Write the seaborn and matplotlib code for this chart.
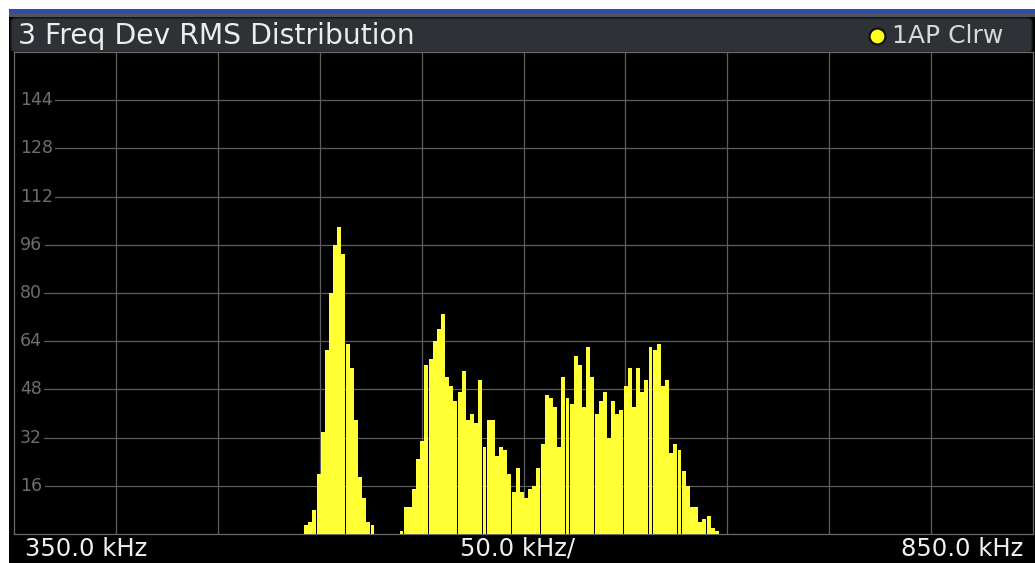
import numpy as np
import pandas as pd
import matplotlib
matplotlib.use("Agg")
import matplotlib.pyplot as plt
from matplotlib.patches import Rectangle, FancyBboxPatch
from matplotlib.lines import Line2D
import matplotlib.transforms as mtransforms
import seaborn as sns

# ---- data -------------------------------------------------------------
title_text = "3 Freq Dev RMS Distribution"
trace_label = "1AP Clrw"
start_label = "350.0 kHz"
span_label = "50.0 kHz/"
stop_label = "850.0 kHz"

x_min_khz = 350.0
x_max_khz = 850.0
x_grid_khz = [400, 450, 500, 550, 600, 650, 700, 750, 800]
y_max = 160
y_ticks = [16, 32, 48, 64, 80, 96, 112, 128, 144]

# histogram bins (kHz)
bin_start_khz = 492.3
bin_width_khz = 2.036

# hit counts per bin
counts_low_peak = [3, 4, 8, 20, 34, 61, 80, 96, 102, 93, 63, 55, 38, 19, 12, 4, 3]
counts_gap = [0, 0, 0, 0, 0, 0]
counts_high_band = [1, 9, 9, 15, 25, 31, 56, 58, 64, 68, 73, 52, 49, 44, 47,
                    54, 38, 40, 37, 51, 29, 38, 38, 26, 29, 28, 20, 14, 22, 14,
                    12, 15, 16, 22, 30, 46, 45, 42, 29, 52, 45, 43, 59, 56, 42,
                    62, 52, 40, 44, 47, 32, 44, 40, 41, 49, 55, 42, 55, 47, 51,
                    62, 61, 63, 49, 51, 27, 30, 28, 21, 16, 9, 9, 4, 5, 6, 2, 1]

counts = counts_low_peak + counts_gap + counts_high_band
n_bins = len(counts)
centers = bin_start_khz + bin_width_khz * (np.arange(n_bins) + 0.5)
df = pd.DataFrame({"freq": centers, "hits": counts})

# ---- figure ------------------------------------------------------------
W, H = 1035, 563
fig = plt.figure(figsize=(W / 100, H / 100), dpi=100, facecolor="white")


def box(x0, y0, x1, y1, color, **kw):
    """Rectangle given in pixel coordinates measured from the top-left."""
    r = Rectangle((x0 / W, 1 - y1 / H), (x1 - x0) / W, (y1 - y0) / H,
                  transform=fig.transFigure, facecolor=color,
                  edgecolor="none", zorder=-5, **kw)
    fig.add_artist(r)
    return r


# window frame
box(9, 9.5, W, 12.8, "#2f4fa6")
box(9, 12.8, W, 17, "#505458")
box(9, 17, W, H, "#000000")
bar = FancyBboxPatch((11 / W, 1 - 52 / H), (1032 - 11) / W, (52 - 18) / H,
                     boxstyle="round,pad=0,rounding_size=0.006",
                     transform=fig.transFigure, facecolor="#2e3236",
                     edgecolor="#1c1e20", linewidth=1.0, zorder=-4)
fig.add_artist(bar)

fig.text(18 / W, 1 - 36 / H, title_text, color="#ececec", fontsize=20.3,
         family="DejaVu Sans", ha="left", va="center")
fig.add_artist(Line2D([877 / W], [1 - 36 / H], marker="o", markersize=11.5,
                      markerfacecolor="#ffff1e", markeredgecolor="#111111",
                      markeredgewidth=1.6, transform=fig.transFigure))
fig.text(892 / W, 1 - 36 / H, trace_label, color="#d8d8d8", fontsize=18,
         family="DejaVu Sans", ha="left", va="center")

# plot area
ax = fig.add_axes([14 / W, (H - 534) / H, 1019 / W, 482 / H])
ax.set_zorder(2)
ax.set_facecolor("black")

for xv in x_grid_khz:
    ax.axvline(xv, color="#5e5e5e", linewidth=0.9, zorder=0.5)
for yv in y_ticks:
    ax.axhline(yv, xmin=0.004, color="#5e5e5e", linewidth=0.9, zorder=0.5)

sns.histplot(data=df, x="freq", weights="hits", ax=ax,
             binwidth=bin_width_khz,
             binrange=(bin_start_khz, bin_start_khz + n_bins * bin_width_khz),
             color="#ffff33", alpha=1.0, linewidth=0, shrink=0.95,
             antialiased=False, zorder=3)

ax.set_xlim(x_min_khz, x_max_khz)
ax.set_ylim(0, y_max)
ax.set_xlabel("")
ax.set_ylabel("")
ax.set_xticks([])
ax.set_yticks([])
for sp in ax.spines.values():
    sp.set_color("#6a6a6a")
    sp.set_linewidth(0.9)

ylab_tf = mtransforms.blended_transform_factory(ax.transAxes, ax.transData)
for yv in y_ticks:
    ax.text(6 / 1019, yv, str(yv), transform=ylab_tf, color="#6e6e6e",
            fontsize=12.5, ha="left", va="center", zorder=4,
            bbox=dict(facecolor="black", edgecolor="none", pad=1.8))

# frequency axis annotations
fig.text(25 / W, 1 - 549 / H, start_label, color="#f0f0f0", fontsize=17.5,
         ha="left", va="center")
fig.text(518 / W, 1 - 549 / H, span_label, color="#f0f0f0", fontsize=17.5,
         ha="center", va="center")
fig.text(1023 / W, 1 - 549 / H, stop_label, color="#f0f0f0", fontsize=17.5,
         ha="right", va="center")

fig.savefig("out.png", dpi=100, facecolor="white")
